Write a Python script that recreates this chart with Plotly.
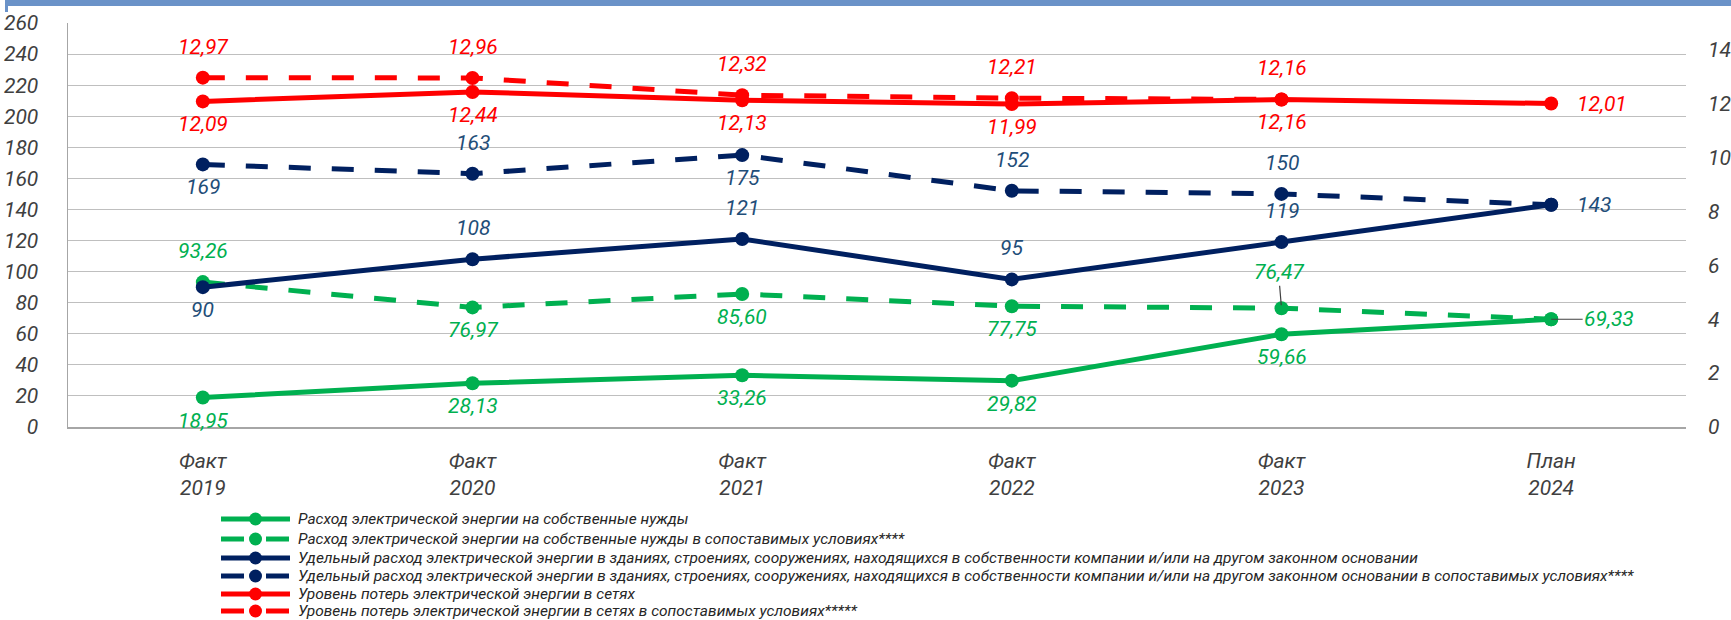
import plotly.graph_objects as go

# ---------------- data ----------------
categories = ["Факт<br>2019", "Факт<br>2020", "Факт<br>2021", "Факт<br>2022", "Факт<br>2023", "План<br>2024"]

own_needs = [18.95, 28.13, 33.26, 29.82, 59.66, 69.33]
own_needs_comp = [93.26, 76.97, 85.60, 77.75, 76.47, 69.33]
specific_use = [90, 108, 121, 95, 119, 143]
specific_use_comp = [169, 163, 175, 152, 150, 143]
grid_losses = [12.09, 12.44, 12.13, 11.99, 12.16, 12.01]
grid_losses_comp = [12.97, 12.96, 12.32, 12.21, 12.16, None]

left_ticks = list(range(0, 261, 20))
right_ticks = list(range(0, 15, 2))

series_names = [
    "Расход электрической энергии на собственные нужды",
    "Расход электрической энергии на собственные нужды в сопоставимых условиях****",
    "Удельный расход электрической энергии в зданиях, строениях, сооружениях, находящихся в собственности компании и/или на другом законном основании",
    "Удельный расход электрической энергии в зданиях, строениях, сооружениях, находящихся в собственности компании и/или на другом законном основании в сопоставимых условиях****",
    "Уровень потерь электрической энергии в сетях",
    "Уровень потерь электрической энергии в сетях в сопоставимых условиях*****",
]

# ---------------- styles ----------------
GREEN = "#00B050"
NAVY = "#002060"
NAVY_TXT = "#1F4E79"
RED = "#FF0000"
AXIS_TXT = "#404040"
FONT = "Roboto, Liberation Sans, DejaVu Sans, sans-serif"
DASH = "22px,21px"
NUM_SIZE = 21

# label placement: b=below, a=above, r=right, rl=right with leader, al=above with leader
series = [
    dict(name=series_names[0], y=own_needs, color=GREEN, tcolor=GREEN, dash="solid", axis="y", dec=2,
         pos=["b", "b", "b", "b", "b", "rl"]),
    dict(name=series_names[1], y=own_needs_comp, color=GREEN, tcolor=GREEN, dash=DASH, axis="y", dec=2,
         pos=["a", "b", "b", "b", "al", None]),
    dict(name=series_names[3], y=specific_use_comp, color=NAVY, tcolor=NAVY_TXT, dash=DASH, axis="y", dec=0,
         pos=["b", "a", "b", "a", "a", None]),
    dict(name=series_names[2], y=specific_use, color=NAVY, tcolor=NAVY_TXT, dash="solid", axis="y", dec=0,
         pos=["b", "a", "a", "a", "a", "r"]),
    dict(name=series_names[4], y=grid_losses, color=RED, tcolor=RED, dash="solid", axis="y2", dec=2,
         pos=["b", "b", "b", "b", "b", "r"]),
    dict(name=series_names[5], y=grid_losses_comp, color=RED, tcolor=RED, dash=DASH, axis="y2", dec=2,
         pos=["a", "a", "a", "a", "a", None]),
]

W, H = 1731, 620
ML, MR, MT, MB = 68, 45, 23, 193
PW, PH = W - ML - MR, H - MT - MB


def px_x(p):
    return (p - ML) / PW


def px_y(p):
    return (H - MB - p) / PH


fig = go.Figure()
annotations = []

for s in series:
    fig.add_trace(go.Scatter(
        x=categories, y=s["y"], name=s["name"], mode="lines+markers",
        yaxis=s["axis"], showlegend=False,
        line=dict(color=s["color"], width=5, dash=s["dash"]),
        marker=dict(color=s["color"], size=14),
        hoverinfo="skip",
    ))
    for cat, v, p in zip(categories, s["y"], s["pos"]):
        if p is None or v is None:
            continue
        txt = f"{v:.{s['dec']}f}".replace(".", ",")
        a = dict(x=cat, y=v, xref="x", yref=s["axis"], text=txt, showarrow=False,
                 font=dict(family=FONT, size=NUM_SIZE, color=s["tcolor"], style="italic"))
        if p == "a":
            a.update(yshift=31)
        elif p == "b":
            a.update(yshift=-23)
        elif p == "r":
            a.update(xanchor="left", xshift=24)
        elif p == "rl":
            a.update(showarrow=True, ax=58, ay=0, arrowhead=0, arrowwidth=1.2,
                     arrowcolor=AXIS_TXT, standoff=0)
        elif p == "al":
            a.update(showarrow=True, ax=-3, ay=-36, arrowhead=0, arrowwidth=1.2,
                     arrowcolor=AXIS_TXT, standoff=3)
        annotations.append(a)

# ---------------- custom legend ----------------
shapes = []
legend_order = [0, 1, 3, 2, 4, 5]  # series index in legend order
legend_rows = [519, 539, 558, 576, 594, 611]
for row_y, si in zip(legend_rows, legend_order):
    s = series[si]
    shapes.append(dict(type="line", xref="paper", yref="paper",
                       x0=px_x(221), x1=px_x(290), y0=px_y(row_y), y1=px_y(row_y),
                       line=dict(color=s["color"], width=5,
                                 dash="solid" if s["dash"] == "solid" else "23px,22px")))
    shapes.append(dict(type="circle", xref="paper", yref="paper",
                       xsizemode="pixel", ysizemode="pixel",
                       xanchor=px_x(255.5), yanchor=px_y(row_y),
                       x0=-6.5, x1=6.5, y0=-6.5, y1=6.5,
                       fillcolor=s["color"], line=dict(width=0)))
    annotations.append(dict(xref="paper", yref="paper", x=px_x(296), y=px_y(row_y),
                            xanchor="left", yanchor="middle", showarrow=False,
                            text=s["name"],
                            font=dict(family=FONT, size=15.5, color="#262626", style="italic")))

# top blue band
shapes.append(dict(type="rect", xref="paper", yref="paper",
                   x0=px_x(7), x1=px_x(W + 5), y0=px_y(6), y1=px_y(-2),
                   fillcolor="#6A92C8", line=dict(width=0), layer="above"))
shapes.append(dict(type="rect", xref="paper", yref="paper",
                   x0=px_x(5), x1=px_x(8), y0=px_y(12), y1=px_y(-2),
                   fillcolor="#6A92C8", line=dict(width=0), layer="above"))

tickfont = dict(family=FONT, size=NUM_SIZE, color=AXIS_TXT, style="italic")

fig.update_layout(
    width=W, height=H,
    margin=dict(l=ML, r=MR, t=MT, b=MB, autoexpand=False),
    paper_bgcolor="white", plot_bgcolor="white",
    font=dict(family=FONT, style="italic"),
    xaxis=dict(type="category", range=[-0.5, 5.5], showgrid=False, zeroline=False,
               showline=True, linecolor="#A6A6A6", linewidth=1.5, automargin=False,
               tickfont=tickfont, ticks="", ticklabelstandoff=14, fixedrange=True),
    yaxis=dict(range=[0, 260], tickvals=left_ticks, ticktext=[str(t) for t in left_ticks],
               showgrid=True, gridcolor="#BFBFBF", gridwidth=1, zeroline=False,
               showline=True, linecolor="#A6A6A6", linewidth=1.5, automargin=False,
               tickfont=tickfont, ticks="", ticklabelstandoff=24),
    yaxis2=dict(range=[0, 15], tickvals=right_ticks, ticktext=[str(t) for t in right_ticks],
                overlaying="y", side="right", showgrid=False, zeroline=False, showline=False,
                automargin=False,
                tickfont=tickfont, ticks="", ticklabelstandoff=21),
    shapes=shapes,
    annotations=annotations,
    showlegend=False,
)

fig.write_html("out.html",
               config={"displayModeBar": False, "staticPlot": True},
               post_script="document.body.style.margin='0';document.body.style.overflow='hidden';")
